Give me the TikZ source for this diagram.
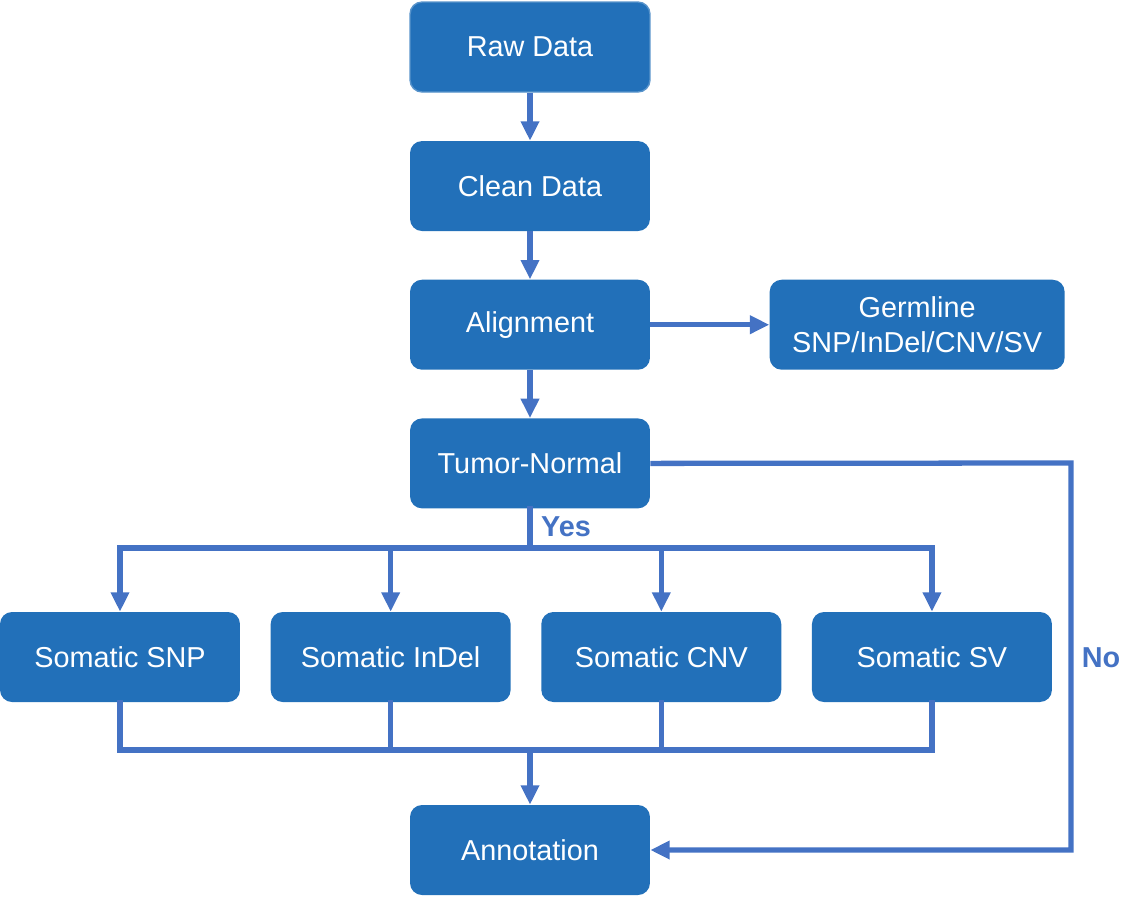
\documentclass[tikz,border=0pt]{standalone}
\usepackage{fontspec}
\setmainfont{Liberation Sans}
\usetikzlibrary{positioning,arrows.meta}
\definecolor{boxblue}{RGB}{34,112,185}
\definecolor{lineblue}{RGB}{68,114,196}

\begin{document}
\begin{tikzpicture}[x = 0.02cm, y = -0.02cm, node distance = 0.96cm and 2.38cm, > = {Triangle[length = 11pt, width = 10pt]},
stage/.style={ rectangle, fill = boxblue, text = white, rounded corners = 0.24cm, minimum width = 4.8cm, minimum height = 1.8cm, align = center, font = \fontsize{16.4}{19.5}\selectfont },
link/.style={ draw = lineblue, line width = 3pt },
bus/.style={ link, line cap = rect },
lab/.style={ text = lineblue, font = \fontsize{16.4}{19.5}\selectfont\bfseries }
]
\useasboundingbox (0,0) rectangle (1141,897);
%main column
\node (raw) at (530,47) [stage, draw = boxblue!75!white, thick] {Raw Data};
\node (clean) [stage, below = of raw] {Clean Data};
\node (align) [stage, below = of clean] {Alignment};
\node (germ) [stage, minimum width = 5.9cm, right = of align] {Germline\\SNP/InDel/CNV/SV};
\node (tn) [stage, below = of align] {Tumor-Normal};
\draw [link, ->] (raw) -- (clean);
\draw [link, ->] (clean) -- (align);
\draw [link, ->] (align) -- (tn);
\draw [link, ->] (align) -- (germ);

%somatic calls
\node (snp) at (120,657) [stage] {Somatic SNP};
\node (indel) [stage, right = 0.6cm of snp] {Somatic InDel};
\node (cnv) [stage, right = 0.6cm of indel] {Somatic CNV};
\node (sv) [stage, right = 0.6cm of cnv] {Somatic SV};
\node (annot) at (530,850) [stage] {Annotation};

%split after tumor-normal
\coordinate (split) at (530,548);
\draw [bus] (tn) -- (split);
\node (yes) at (566,527) [lab] {Yes};
\draw [bus] (snp.north |- split) -- (sv.north |- split);
\foreach \s in {snp, indel, cnv, sv}
	\draw [link, ->] (\s.north |- split) -- (\s);

%merge into annotation
\coordinate (merge) at (530,750);
\foreach \s in {snp, indel, cnv, sv}
	\draw [bus] (\s) -- (\s.south |- merge);
\draw [bus] (snp.south |- merge) -- (sv.south |- merge);
\draw [link, ->] (merge) -- (annot);

%no branch
\coordinate (turn) at (1071,463);
\draw [link, ->] (tn.east) -- (turn) -- (turn |- annot) -- (annot.east);
\node (no) at (1101,658) [lab] {No};
\end{tikzpicture}
\end{document}
